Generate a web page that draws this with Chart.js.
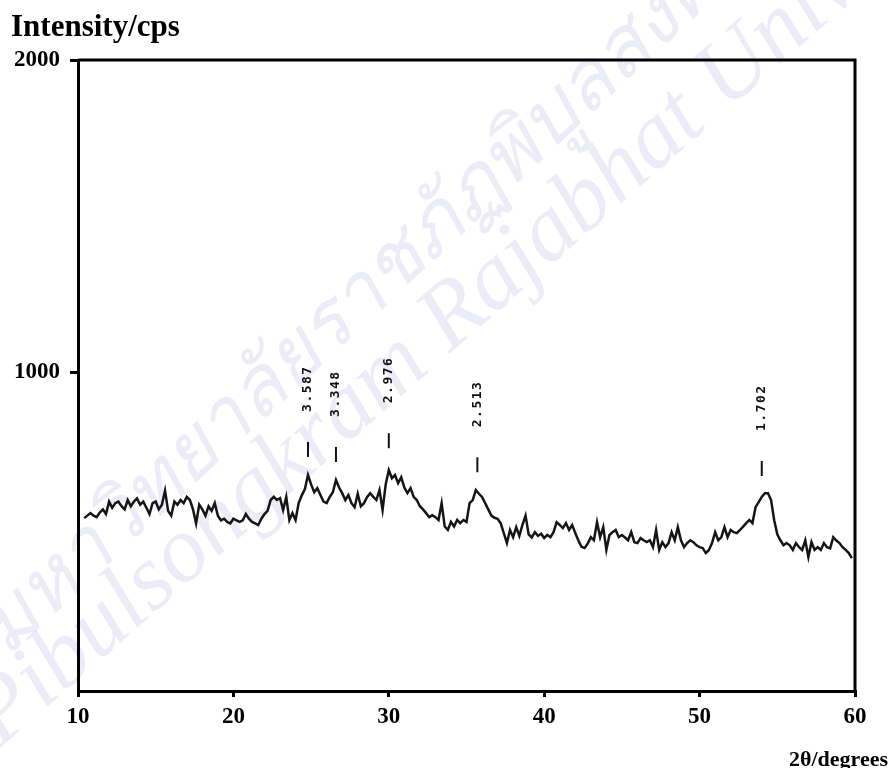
<!DOCTYPE html>
<html>
<head>
<meta charset="utf-8">
<script src="https://cdn.jsdelivr.net/npm/chart.js@4.4.1/dist/chart.umd.min.js"></script>
<style>
  html, body { margin: 0; padding: 0; background: #fff; }
  #wrap { width: 891px; height: 768px; }
</style>
</head>
<body>
<div id="wrap"><canvas id="xrd"></canvas></div>
<script>
// scan settings (degrees 2-theta)
var scanStart = 10.4;
var scanStep = 0.2;

// counts per second, one row per 2 degrees
var intensity = [
  532, 540, 548, 540, 535, 550, 560, 545, 585, 565,
  580, 585, 570, 560, 590, 570, 585, 595, 575, 585,
  565, 545, 580, 585, 560, 575, 620, 555, 540, 585,
  575, 590, 580, 600, 590, 560, 515, 575, 560, 540,
  570, 555, 580, 540, 525, 530, 520, 515, 530, 525,
  520, 525, 545, 530, 520, 515, 510, 530, 545, 555,
  590, 600, 590, 596, 558, 600, 526, 548, 526, 580,
  605, 625, 670, 640, 615, 628, 606, 585, 580, 600,
  615, 654, 630, 612, 590, 606, 580, 567, 610, 570,
  580, 599, 612, 600, 590, 622, 558, 640, 686, 660,
  670, 644, 663, 630, 612, 628, 600, 590, 570, 560,
  548, 535, 541, 535, 526, 580, 505, 494, 520, 505,
  526, 516, 526, 520, 580, 590, 622, 610, 600, 580,
  560, 540, 533, 530, 515, 484, 452, 494, 471, 503,
  475, 510, 540, 480, 470, 487, 475, 482, 468, 478,
  471, 487, 519, 510, 500, 516, 494, 510, 484, 460,
  440, 436, 450, 471, 461, 519, 471, 503, 430, 478,
  487, 494, 471, 478, 470, 461, 487, 455, 452, 468,
  461, 455, 461, 439, 494, 430, 455, 439, 452, 487,
  461, 503, 461, 439, 452, 461, 455, 445, 439, 436,
  420, 430, 452, 487, 461, 471, 503, 471, 494, 487,
  484, 494, 505, 516, 526, 516, 567, 583, 600, 612,
  612, 590, 525, 480, 461, 445, 452, 445, 430, 452,
  439, 430, 461, 407, 455, 430, 439, 430, 452, 439,
  435, 471, 460, 452, 439, 430, 420, 404
];

// d-spacings marked above the reflections
var peakLabels = ['3.587', '3.348', '2.976', '2.513', '1.702'];
var peakAngles = [24.8, 26.6, 30.0, 35.7, 54.0];
var peakMarkLevel = [728, 712, 756, 679, 667];

var xTicks = [10, 20, 30, 40, 50, 60];
var yTicks = [1000, 2000];

var points = intensity.map(function (v, i) {
  return { x: +(scanStart + i * scanStep).toFixed(1), y: v };
});

var serifBold = { family: "'Liberation Serif', 'Times New Roman', serif", size: 23, weight: 'bold' };

// background, watermark, frame, peak markers and axis captions
var decorations = {
  id: 'decorations',
  beforeDraw: function (chart) {
    var ctx = chart.ctx;
    ctx.save();
    ctx.fillStyle = '#fff';
    ctx.fillRect(0, 0, chart.width, chart.height);
    ctx.fillStyle = 'rgba(120, 120, 215, 0.14)';
    ctx.translate(0, 665);
    ctx.rotate(-0.75);
    ctx.font = "italic 80px 'DejaVu Serif', serif";
    ctx.fillText('มหาวิทยาลัยราชภัฏพิบูลสงคราม', 10, 0);
    ctx.restore();
    ctx.save();
    ctx.fillStyle = 'rgba(120, 120, 215, 0.14)';
    ctx.translate(0, 748);
    ctx.rotate(-0.72);
    ctx.font = "italic 94px 'Liberation Serif', serif";
    ctx.fillText('Pibulsongkram Rajabhat University', 0, 0);
    ctx.restore();
  },
  afterDatasetsDraw: function (chart) {
    var ctx = chart.ctx;
    var area = chart.chartArea;
    var xs = chart.scales.x;
    var ys = chart.scales.y;
    ctx.save();
    ctx.strokeStyle = '#000';
    ctx.lineWidth = 3;
    ctx.beginPath();
    ctx.moveTo(area.left, area.top);
    ctx.lineTo(area.right, area.top);
    ctx.lineTo(area.right, area.bottom);
    ctx.stroke();

    ctx.fillStyle = '#111';
    ctx.strokeStyle = '#111';
    ctx.lineWidth = 2;
    ctx.font = "bold 13px 'DejaVu Sans Mono', monospace";
    ctx.letterSpacing = '1.5px';
    peakLabels.forEach(function (label, i) {
      var px = xs.getPixelForValue(peakAngles[i]);
      var py = ys.getPixelForValue(peakMarkLevel[i]);
      ctx.beginPath();
      ctx.moveTo(px, py);
      ctx.lineTo(px, py - 15);
      ctx.stroke();
      ctx.save();
      ctx.translate(px, py - 45);
      ctx.rotate(-Math.PI / 2);
      ctx.textAlign = 'left';
      ctx.textBaseline = 'middle';
      ctx.fillText(label, 0, 0);
      ctx.restore();
    });
    ctx.letterSpacing = '0px';

    ctx.fillStyle = '#000';
    ctx.font = "bold 31px 'Liberation Serif', serif";
    ctx.textAlign = 'left';
    ctx.textBaseline = 'alphabetic';
    ctx.fillText('Intensity/cps', 11, 36);
    ctx.font = "bold 22px 'Liberation Serif', serif";
    ctx.textAlign = 'right';
    ctx.fillText('2θ/degrees', 888, 766);
    ctx.restore();
  }
};

new Chart(document.getElementById('xrd'), {
  type: 'scatter',
  data: {
    datasets: [{
      label: 'XRD',
      data: points,
      showLine: true,
      borderColor: '#151515',
      borderWidth: 2.5,
      pointRadius: 0,
      tension: 0
    }]
  },
  options: {
    responsive: true,
    maintainAspectRatio: false,
    animation: false,
    layout: { padding: { top: 60, right: 36, left: 0, bottom: 0 } },
    plugins: {
      legend: { display: false },
      tooltip: { enabled: false }
    },
    scales: {
      x: {
        type: 'linear',
        min: 10,
        max: 60,
        afterBuildTicks: function (scale) {
          scale.ticks = xTicks.map(function (v) { return { value: v }; });
        },
        afterFit: function (scale) { scale.height = 77; },
        border: { display: true, color: '#000', width: 3 },
        grid: { drawOnChartArea: false, tickLength: 6, color: '#000', lineWidth: 3 },
        ticks: { color: '#000', font: serifBold, padding: 6, maxRotation: 0,
                 callback: function (v) { return String(v); } }
      },
      y: {
        type: 'linear',
        min: -22,
        max: 2000,
        afterBuildTicks: function (scale) {
          scale.ticks = yTicks.map(function (v) { return { value: v }; });
        },
        afterFit: function (scale) { scale.width = 78; },
        border: { display: true, color: '#000', width: 3 },
        grid: { drawOnChartArea: false, tickLength: 8, color: '#000', lineWidth: 3 },
        ticks: { color: '#000', font: serifBold, padding: 10,
                 callback: function (v) { return String(v); } }
      }
    }
  },
  plugins: [decorations]
});
</script>
</body>
</html>
